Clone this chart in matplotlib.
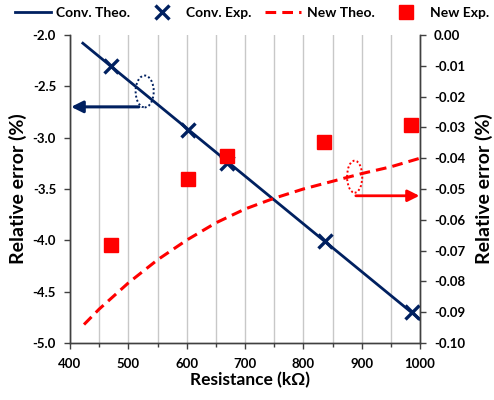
import matplotlib
matplotlib.use("Agg")
import matplotlib.pyplot as plt
from matplotlib.patches import Ellipse
from matplotlib.ticker import MultipleLocator, FormatStrFormatter

plt.rcParams['font.family'] = ['Lato', 'DejaVu Sans']
plt.rcParams['font.weight'] = 'bold'

NAVY = '#002060'
RED = '#FF0000'

# Data
conv_theo_r = [422, 1000]
conv_theo_err = [-2.08, -4.77]
conv_exp_r = [470, 602, 669, 837, 986]
conv_exp_err = [-2.30, -2.93, -3.25, -4.01, -4.70]
new_theo_r = [424, 450, 500, 550, 600, 650, 700, 750, 800, 850, 900, 950, 1000]
new_theo_err = [-0.094, -0.089, -0.0805, -0.073, -0.0666, -0.061, -0.0565,
                -0.053, -0.050, -0.0475, -0.045, -0.0428, -0.040]
new_exp_r = [470, 602, 669, 836, 985]
new_exp_err = [-0.0682, -0.0468, -0.0392, -0.0347, -0.0292]

fig = plt.figure(figsize=(4.94, 4.0), dpi=100)
ax = fig.add_axes([70/494, 1-343/400, 350/494, 308/400])
ax2 = ax.twinx()

ax.set_xlim(400, 1000)
ax.set_ylim(-5.0, -2.0)
ax2.set_ylim(-0.10, 0.0)

ax.xaxis.set_major_locator(MultipleLocator(100))
ax.xaxis.set_minor_locator(MultipleLocator(50))
ax.yaxis.set_major_locator(MultipleLocator(0.5))
ax.yaxis.set_major_formatter(FormatStrFormatter('%.1f'))
ax2.yaxis.set_major_locator(MultipleLocator(0.01))
ax2.yaxis.set_major_formatter(FormatStrFormatter('%.2f'))

ax.grid(True, which='both', axis='x', color='#c8c8c8', linewidth=1.0)
ax.set_axisbelow(True)

for a in (ax, ax2):
    a.spines['top'].set_visible(False)
    for s in ('left', 'right', 'bottom'):
        a.spines[s].set_color('#404040')
        a.spines[s].set_linewidth(1.0)

ax.tick_params(axis='y', which='major', direction='out', length=4, width=1,
               color='#404040', labelsize=9.5, labelcolor='black', pad=6)
ax.tick_params(axis='x', which='major', direction='out', length=4, width=1,
               color='#404040', labelsize=9.5, labelcolor='black', pad=7)
ax.tick_params(axis='x', which='minor', direction='out', length=3, width=1, color='#404040')
ax2.tick_params(axis='y', direction='out', length=4, width=1, color='#404040',
                labelsize=9.5, pad=6)

l1, = ax.plot(conv_theo_r, conv_theo_err, color=NAVY, lw=2.0, label='Conv. Theo.', zorder=3)
l2, = ax.plot(conv_exp_r, conv_exp_err, ls='none', marker='x', ms=10, mew=2.4,
              color=NAVY, label='Conv. Exp.', zorder=4)
l3, = ax2.plot(new_theo_r, new_theo_err, color=RED, lw=2.2, ls=(0, (3.5, 2)),
               label='New Theo.', zorder=3)
l4, = ax2.plot(new_exp_r, new_exp_err, ls='none', marker='s', ms=10.5,
               color=RED, label='New Exp.', zorder=4)

ax.set_xlabel('Resistance (kΩ)', fontsize=12.5, fontweight='bold')
ax.xaxis.set_label_coords(0.515, -0.095)
ax.set_ylabel('Relative error (%)', fontsize=14, fontweight='bold')
ax.yaxis.set_label_coords(-0.122, 0.5)
ax2.set_ylabel('Relative error (%)', fontsize=14, fontweight='bold')
ax2.yaxis.set_label_coords(1.158, 0.5)

# Annotations: ellipses and arrows
ax.add_patch(Ellipse((528, -2.55), 31, 0.31, fill=False, ls=(0, (1, 1.2)),
                     lw=1.4, edgecolor=NAVY, zorder=5))
ax.annotate('', xy=(402, -2.70), xytext=(518, -2.70),
            arrowprops=dict(arrowstyle='-|>,head_length=0.7,head_width=0.35',
                            color=NAVY, lw=2.2, shrinkA=0, shrinkB=0))
ax2.add_patch(Ellipse((888, -0.0460), 26, 0.0104, fill=False, ls=(0, (1, 1.2)),
                      lw=1.4, edgecolor=RED, zorder=5))
ax2.annotate('', xy=(999, -0.0522), xytext=(890, -0.0522),
             arrowprops=dict(arrowstyle='-|>,head_length=0.7,head_width=0.35',
                             color=RED, lw=2.0, shrinkA=0, shrinkB=0))

fig.legend(handles=[l1, l2, l3, l4], loc='center', bbox_to_anchor=(0.51, 1-13/400),
           ncol=4, frameon=False, fontsize=10, handlelength=2.6, handletextpad=0.4,
           columnspacing=1.0)

fig.savefig('out.png', dpi=100)
